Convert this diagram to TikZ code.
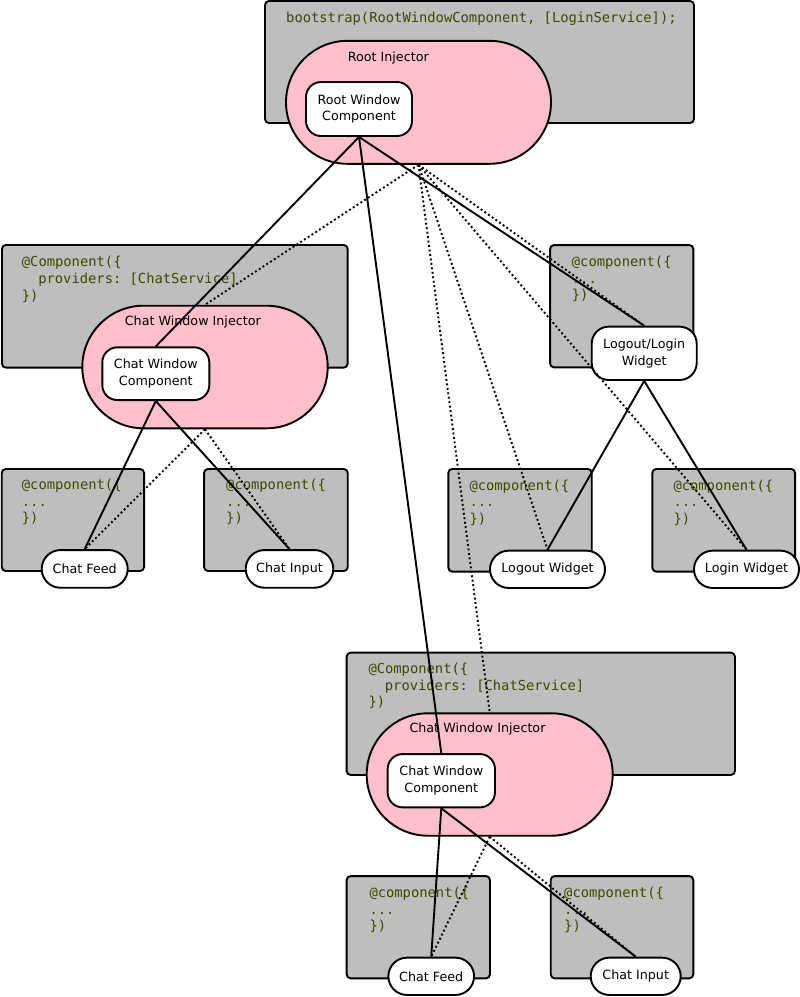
\documentclass[tikz,border=0pt]{standalone}
\usepackage{fontspec}
\setmainfont{DejaVu Sans}
\setmonofont{DejaVu Sans Mono}
\usetikzlibrary{shapes.misc}
\definecolor{gboxc}{RGB}{190,190,190}
\definecolor{pinkc}{RGB}{255,192,203}
\definecolor{codec}{RGB}{68,68,0}
\begin{document}
\begin{tikzpicture}[x=1pt,y=-1pt,
 gbox/.style={draw=black, fill=gboxc, line width=1.9pt, rounded corners=4pt, inner sep=0pt},
 inj/.style={draw=black, fill=pinkc, line width=1.9pt, rounded rectangle, inner sep=0pt},
 comp/.style={draw=black, fill=white, line width=1.9pt, rounded corners=15pt, align=center, inner sep=0pt, font=\fontsize{12.7}{16.5}\selectfont},
 pill/.style={draw=black, fill=white, line width=1.9pt, rounded rectangle, inner sep=0pt, font=\fontsize{12.7}{16.5}\selectfont},
 code/.style={anchor=base west, inner sep=0pt, text=codec, font=\fontsize{13.8}{16.7}\ttfamily},
 lbl/.style={inner sep=0pt, font=\fontsize{12.7}{16.5}\selectfont},
 link/.style={line width=1.9pt},
 dlink/.style={line width=1.9pt, dash pattern=on 1.9pt off 2.6pt}]
\useasboundingbox (0,0) rectangle (800,997);

% gray boxes
\node[gbox, minimum width=429, minimum height=122] (b0) at (479.5,62) {};
\node[gbox, minimum width=345.7, minimum height=122.7] (b1) at (174.8,306.3) {};
\node[gbox, minimum width=142.3, minimum height=102] (b2) at (72.9,520) {};
\node[gbox, minimum width=143.7, minimum height=102] (b3) at (275.9,520) {};
\node[gbox, minimum width=143.3, minimum height=122.3] (b4) at (621.7,306.2) {};
\node[gbox, minimum width=143.4, minimum height=102.7] (b5) at (520,520.3) {};
\node[gbox, minimum width=142.7, minimum height=102.7] (b6) at (723.7,520.3) {};
\node[gbox, minimum width=388.3, minimum height=122.3] (b7) at (540.8,713.8) {};
\node[gbox, minimum width=143.3, minimum height=102.3] (b8) at (418.3,927.2) {};
\node[gbox, minimum width=142.6, minimum height=102.3] (b9) at (622,927.2) {};

% code texts
\node[code] (t0) at (286,22.7) {bootstrap(RootWindowComponent, [LoginService]);};

\node[code] (t1a) at (21.7,266.7) {@Component(\{};
\node[code] (t1b) at (38.1,283.4) {providers: [ChatService]};
\node[code] (t1c) at (21.7,300.1) {\})};

\node[code] (t2a) at (21.7,489.5) {@component(\{};
\node[code] (t2b) at (21.7,506.2) {...};
\node[code] (t2c) at (21.7,522.9) {\})};

\node[code] (t3a) at (226,489.5) {@component(\{};
\node[code] (t3b) at (226,506.2) {...};
\node[code] (t3c) at (226,522.9) {\})};

\node[code] (t4a) at (571.7,266.3) {@component(\{};
\node[code] (t4b) at (571.7,283) {...};
\node[code] (t4c) at (571.7,299.7) {\})};

\node[code] (t5a) at (469.3,490) {@component(\{};
\node[code] (t5b) at (469.3,506.7) {...};
\node[code] (t5c) at (469.3,523.4) {\})};

\node[code] (t6a) at (673.3,490) {@component(\{};
\node[code] (t6b) at (673.3,506.7) {...};
\node[code] (t6c) at (673.3,523.4) {\})};

\node[code] (t7a) at (368.3,673.5) {@Component(\{};
\node[code] (t7b) at (384.7,690.2) {providers: [ChatService]};
\node[code] (t7c) at (368.3,706.9) {\})};

\node[code] (t8a) at (369.3,897.5) {@component(\{};
\node[code] (t8b) at (369.3,914.2) {...};
\node[code] (t8c) at (369.3,930.9) {\})};

\node[code] (t9a) at (564,897.5) {@component(\{};
\node[code] (t9b) at (564,914.2) {...};
\node[code] (t9c) at (564,930.9) {\})};

% injectors
\node[inj, minimum width=265, minimum height=123] (rinj) at (418.5,102.3) {};
\node[inj, minimum width=245.4, minimum height=122.6] (linj) at (205,367) {};
\node[inj, minimum width=246, minimum height=122.4] (binj) at (489.7,774.5) {};
\node[lbl] (rinjl) at (388.3,57.7) {Root Injector};
\node[lbl] (linjl) at (192.8,322.3) {Chat Window Injector};
\node[lbl] (binjl) at (477.5,729.3) {Chat Window Injector};

% components
\node[comp, minimum width=106, minimum height=54] (rwc) at (359,109) {Root Window\\Component};
\node[comp, minimum width=107, minimum height=52.7] (lcwc) at (155.8,373.7) {Chat Window\\Component};
\node[comp, minimum width=107.3, minimum height=53.3] (bcwc) at (441.3,780.7) {Chat Window\\Component};
\node[comp, rounded corners=17pt, minimum width=105, minimum height=53.3] (llw) at (644.2,353.3) {Logout/Login\\Widget};

\node[pill, minimum width=86, minimum height=37.7] (lfeed) at (84.7,568.9) {Chat Feed};
\node[pill, minimum width=87.6, minimum height=37.7] (linput) at (289.5,568.9) {Chat Input};
\node[pill, minimum width=115, minimum height=37.3] (logout) at (547.5,569.3) {Logout Widget};
\node[pill, minimum width=105, minimum height=37.3] (login) at (746.5,569.3) {Login Widget};
\node[pill, minimum width=85.7, minimum height=37.3] (bfeed) at (431.2,976.3) {Chat Feed};
\node[pill, minimum width=90, minimum height=37.3] (binput) at (635.7,976.3) {Chat Input};

% solid connectors
\draw[link] (rwc.south) -- (lcwc.north);
\draw[link] (rwc.south) -- (bcwc.north);
\draw[link] (rwc.south) -- (llw.north);
\draw[link] (lcwc.south) -- (lfeed.north);
\draw[link] (lcwc.south) -- (linput.north);
\draw[link] (llw.south) -- (logout.north);
\draw[link] (llw.south) -- (login.north);
\draw[link] (bcwc.south) -- (bfeed.north);
\draw[link] (bcwc.south) -- (binput.north);

% dotted connectors
\draw[dlink] (rinj.south) -- (linj.north);
\draw[dlink] (rinj.south) -- (llw.north);
\draw[dlink] (rinj.south) -- (logout.north);
\draw[dlink] (rinj.south) -- (login.north);
\draw[dlink] (rinj.south) -- (binj.north);
\draw[dlink] (linj.south) -- (lfeed.north);
\draw[dlink] (linj.south) -- (linput.north);
\draw[dlink] (binj.south) -- (bfeed.north);
\draw[dlink] (binj.south) -- (binput.north);
\end{tikzpicture}
\end{document}
